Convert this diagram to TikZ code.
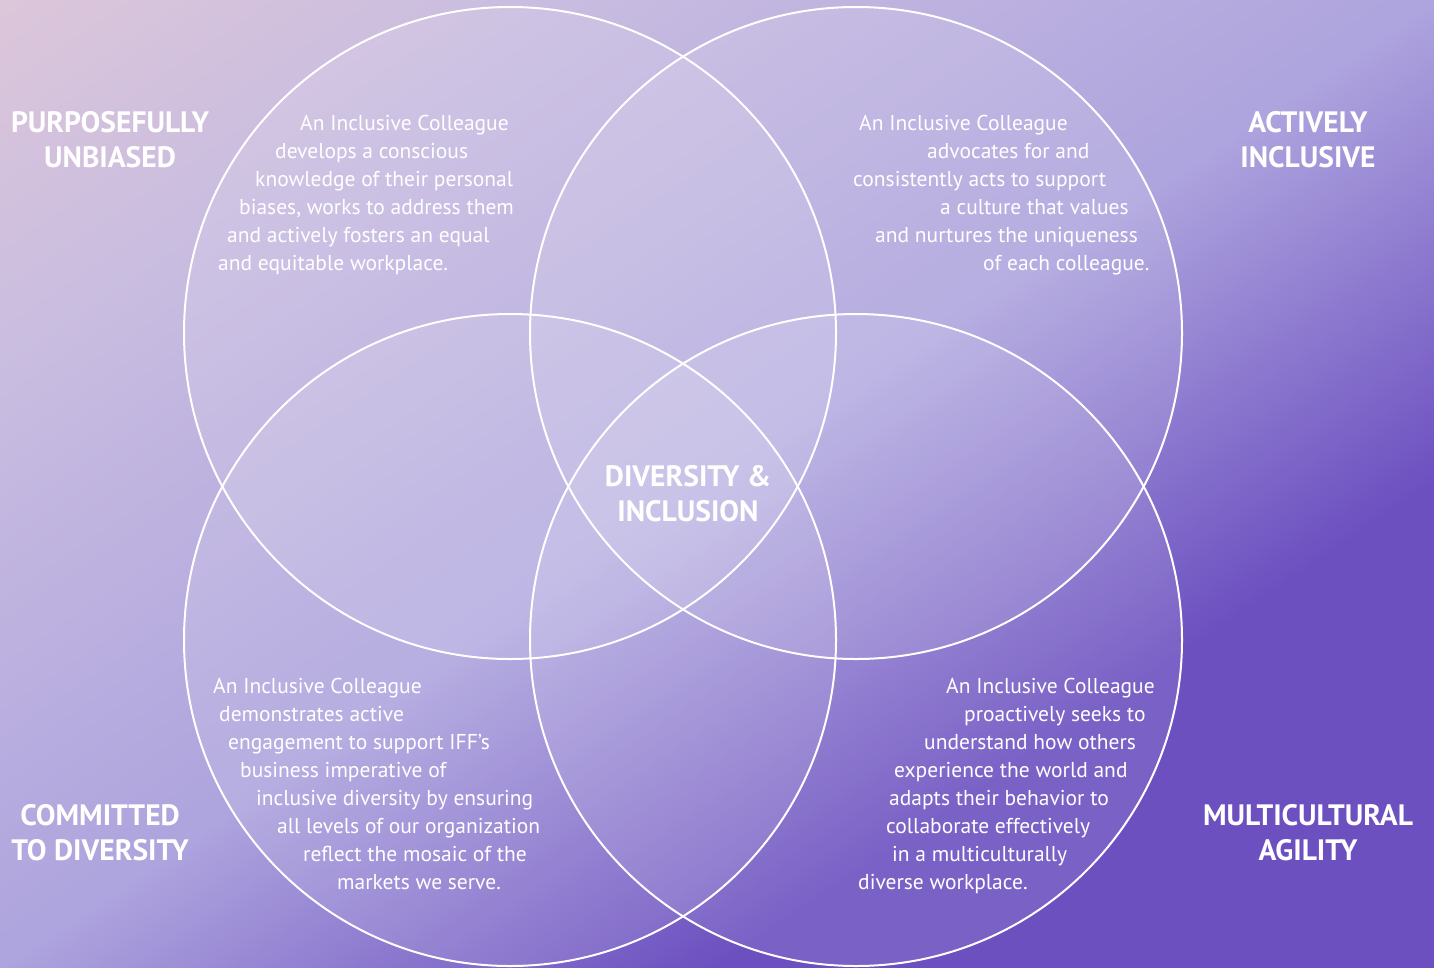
\documentclass[tikz,border=0pt]{standalone}
\usepackage{fontspec}
\setmainfont{PT Sans}
\usetikzlibrary{shadings}
\pgfdeclarefunctionalshading{bgdiag}{\pgfpoint{0bp}{0bp}}{\pgfpoint{100bp}{100bp}}{}{
  sub 50 add 50 div
  dup 0.4 lt
  { 2.5 mul
    dup -20 mul 220 add 255 div exch dup -10 mul 198 add 255 div exch 6 mul 218 add 255 div }
  { dup 1 lt
    { 0.4 sub 0.6 div
      dup -26 mul 200 add 255 div exch dup -24 mul 188 add 255 div exch -2 mul 224 add 255 div }
    { 1 sub 2 mul dup 1 gt {pop 1} if
      dup -66 mul 174 add 255 div exch dup -84 mul 164 add 255 div exch -30 mul 222 add 255 div }
    ifelse }
  ifelse
}
\begin{document}
\begin{tikzpicture}[x=1pt,y=-1pt,
  ring/.style={draw=white,line width=2pt,fill=white,fill opacity=0.1},
  body/.style={text=white,font=\fontsize{21.5}{28}\selectfont,anchor=base west,inner sep=0pt},
  head/.style={text=white,font=\bfseries\fontsize{29.5}{35}\selectfont,align=center,inner sep=0pt}]
\useasboundingbox (0,0) rectangle (1434,967);
\shade[shading=bgdiag] (0,0) rectangle (1434,967);
% circles
\coordinate (ctl) at (510,333);
\coordinate (ctr) at (856,333);
\coordinate (cbl) at (510,640);
\coordinate (cbr) at (856,640);
\foreach \c in {ctl,ctr,cbl,cbr}{
  \draw[ring] (\c) circle[radius=326];
}
% headings
\node[head] (h1) at (110,140) {PURPOSEFULLY\\UNBIASED};
\node[head] (h2) at (1308,140) {ACTIVELY\\INCLUSIVE};
\node[head] (h3) at (100,833) {COMMITTED\\TO DIVERSITY};
\node[head] (h4) at (1308,833) {MULTICULTURAL\\AGILITY};
\node[head] (h0) at (688,494) {DIVERSITY \&\\INCLUSION};
% top-left paragraph
\foreach \x/\t [count=\i] in {300/An Inclusive Colleague,275/develops a conscious,255/knowledge of their personal,239/{biases, works to address them},227/and actively fosters an equal,218/and equitable workplace.}{
  \node[body] (tl\i) at (\x,{123+7+28*(\i-1)}) {\t};
}
% top-right paragraph
\foreach \x/\t [count=\i] in {859/An Inclusive Colleague,927/advocates for and,853/consistently acts to support,940/a culture that values,875/and nurtures the uniqueness,983/of each colleague.}{
  \node[body] (tr\i) at (\x,{123+7+28*(\i-1)}) {\t};
}
% bottom-left paragraph
\foreach \x/\t [count=\i] in {213/An Inclusive Colleague,219/demonstrates active,228/engagement to support IFF's,240/business imperative of,256/inclusive diversity by ensuring,277/all levels of our organization,303/reflect the mosaic of the,337/markets we serve.}{
  \node[body] (bl\i) at (\x,{686+7+28*(\i-1)}) {\t};
}
% bottom-right paragraph
\foreach \x/\t [count=\i] in {946/An Inclusive Colleague,964/proactively seeks to,924/understand how others,894/experience the world and,889/adapts their behavior to,886/collaborate effectively,892/in a multiculturally,858/diverse workplace.}{
  \node[body] (br\i) at (\x,{686+7+28*(\i-1)}) {\t};
}
\end{tikzpicture}
\end{document}
